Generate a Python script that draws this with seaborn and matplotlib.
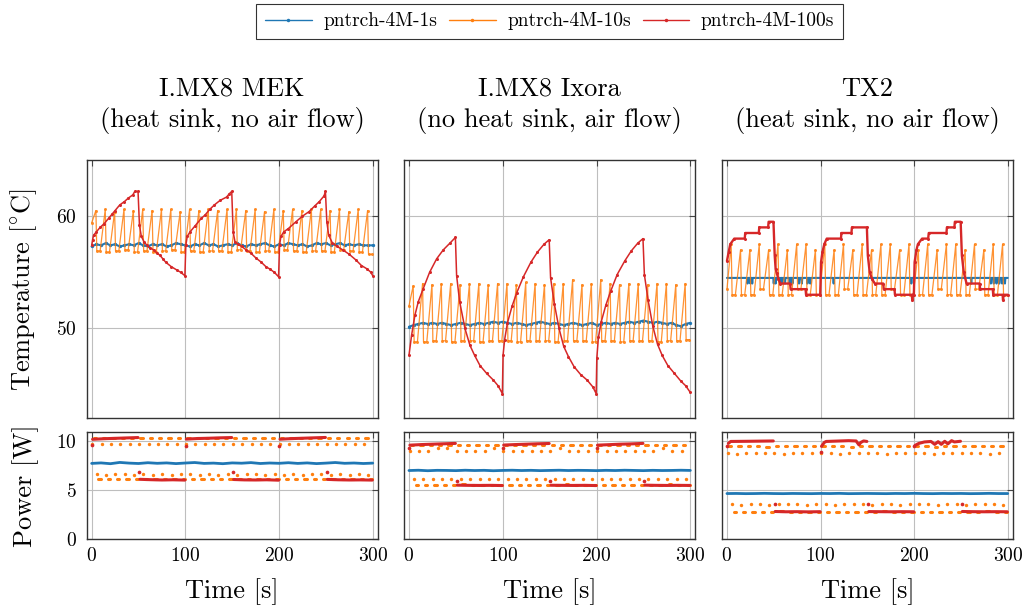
import numpy as np
import pandas as pd
import matplotlib
matplotlib.use("Agg")
import matplotlib.pyplot as plt
from matplotlib.lines import Line2D
import seaborn as sns

# ---------------------------------------------------------------- data
board_titles = ["I.MX8 MEK\n(heat sink, no air flow)",
                "I.MX8 Ixora\n(no heat sink, air flow)",
                "TX2\n(heat sink, no air flow)"]
series_names = ["pntrch-4M-1s", "pntrch-4M-10s", "pntrch-4M-100s"]
x_ticks = [0, 100, 200, 300]
temp_ticks = [50, 60]
power_ticks = [0, 5, 10]

# --- temperature, 1 s workload (sampled every 5 s over 0..300 s)
mek_temp_1s = [57.3, 57.5, 57.4, 57.6, 57.4, 57.5, 57.3, 57.4, 57.5, 57.4,
               57.6, 57.4, 57.3, 57.5, 57.4, 57.5, 57.3, 57.4, 57.6, 57.5,
               57.4, 57.3, 57.5, 57.4, 57.6, 57.4, 57.5, 57.3, 57.4, 57.5,
               57.4, 57.6, 57.4, 57.3, 57.5, 57.4, 57.5, 57.6, 57.4, 57.3,
               57.5, 57.4, 57.6, 57.5, 57.4, 57.5, 57.3, 57.4, 57.6, 57.5,
               57.6, 57.4, 57.5, 57.6, 57.4, 57.5, 57.4, 57.5, 57.4, 57.4, 57.4]
ixora_temp_1s = [50.15, 50.3, 50.4, 50.5, 50.4, 50.5, 50.4, 50.5, 50.4, 50.3,
                 50.4, 50.5, 50.4, 50.3, 50.4, 50.5, 50.4, 50.5, 50.6, 50.5,
                 50.6, 50.5, 50.4, 50.5, 50.4, 50.3, 50.4, 50.5, 50.6, 50.5,
                 50.4, 50.5, 50.4, 50.3, 50.4, 50.5, 50.4, 50.3, 50.4, 50.5,
                 50.3, 50.4, 50.5, 50.4, 50.5, 50.4, 50.5, 50.6, 50.5, 50.6,
                 50.7, 50.6, 50.5, 50.6, 50.5, 50.4, 50.5, 50.3, 50.2, 50.4, 50.5]
tx2_temp_1s_base = 54.5
tx2_temp_1s_dip_t = [22, 25, 27, 50, 52, 57, 59, 62, 67, 70, 77, 80, 86, 89,
                     114, 197, 261, 282, 285, 288, 291, 294, 297]
tx2_temp_1s_dip_v = [54.0, 54.0, 54.0, 54.0, 54.0, 54.0, 54.0, 54.0, 54.0, 54.0,
                     54.0, 54.0, 54.0, 54.0, 54.0, 54.0, 54.0, 54.0, 54.0, 54.0,
                     54.0, 54.0, 54.0]

# --- temperature, 10 s workload: first sample, then per-cycle peak / trough
mek_temp_10s_start = 59.4
mek_temp_10s_peak = [60.5, 60.6, 60.4, 60.6, 60.5, 60.6, 60.5, 60.6, 60.6, 60.4,
                     60.6, 60.5, 60.6, 60.5, 60.6, 60.6, 60.5, 60.6, 60.4, 60.6,
                     60.5, 60.6, 60.5, 60.6, 60.6, 60.5, 60.6, 60.4, 60.6, 60.5]
mek_temp_10s_low = [56.9, 56.8, 56.9, 57.0, 56.8, 56.9, 56.8, 56.9, 57.0, 56.8,
                    56.9, 56.8, 56.9, 56.9, 56.8, 57.0, 56.9, 56.8, 56.9, 56.8,
                    57.0, 56.9, 56.8, 56.9, 56.9, 56.8, 57.0, 56.9, 56.8, 56.6]
ixora_temp_10s_start = 52.0
ixora_temp_10s_peak = [53.8, 54.0, 53.9, 54.0, 54.0, 53.9, 54.0, 54.0, 53.9, 54.0,
                       54.0, 53.9, 54.1, 54.0, 53.9, 54.0, 54.0, 54.35, 53.9, 54.0,
                       54.35, 54.0, 53.9, 54.0, 54.0, 53.9, 54.0, 54.0, 53.9, 54.0]
ixora_temp_10s_low = [48.8, 48.8, 48.9, 48.9, 48.8, 48.9, 48.9, 48.8, 48.9, 48.9,
                      48.9, 48.8, 48.9, 48.9, 48.9, 48.8, 48.9, 48.9, 48.9, 48.8,
                      48.9, 48.9, 48.8, 48.9, 48.9, 48.9, 48.8, 48.9, 48.9, 49.0]
tx2_temp_10s_start = 53.5
tx2_temp_10s_peak = [57.5, 57.0, 57.0, 57.5, 57.0, 57.5, 57.0, 57.5, 57.5, 57.0,
                     57.5, 57.0, 57.5, 57.0, 57.5, 57.0, 57.5, 57.5, 57.0, 57.5,
                     57.0, 57.5, 57.0, 57.5, 57.5, 57.0, 57.5, 57.0, 57.5, 57.5]
tx2_temp_10s_low = [53.0, 53.0, 53.0, 53.5, 53.0, 53.0, 53.0, 53.5, 53.0, 53.0,
                    53.0, 53.0, 53.5, 53.0, 53.0, 53.0, 53.0, 53.5, 53.0, 53.0,
                    53.0, 53.0, 53.5, 53.0, 53.0, 53.0, 53.5, 53.0, 53.0, 53.0]

# --- temperature, 100 s workload
mek_temp_100s_t = [0, 1, 2, 5, 9, 13, 18, 22, 25, 30, 35, 39, 44, 46, 49.5,
                   51, 53, 56, 59, 62, 66, 70, 73, 76, 79, 85, 91, 95, 99.5,
                   100.5, 102, 105, 110, 117, 121, 126, 131, 137, 144, 147, 149.5,
                   151, 153, 156, 160, 165, 170, 175, 181, 186, 190, 195, 199.5,
                   200.5, 202, 205, 210, 218, 225, 232, 238, 243, 248, 249.5,
                   251, 253, 257, 262, 268, 275, 282, 288, 294, 298, 300]
mek_temp_100s = [57.4, 57.9, 58.3, 58.6, 59.0, 59.3, 59.8, 60.2, 60.5, 61.0, 61.3, 61.6, 61.9, 62.2, 62.2,
                 59.2, 58.2, 57.7, 57.4, 57.2, 57.0, 56.7, 56.5, 56.2, 55.9, 55.5, 55.2, 55.0, 54.7,
                 57.4, 58.2, 58.6, 59.1, 59.8, 60.1, 60.6, 61.0, 61.4, 61.7, 62.0, 62.2,
                 58.6, 57.7, 57.5, 57.3, 57.0, 56.7, 56.3, 55.9, 55.5, 55.3, 55.0, 54.6,
                 57.4, 58.2, 58.6, 58.9, 59.5, 60.0, 60.4, 60.9, 61.3, 61.8, 62.2,
                 59.5, 58.3, 57.6, 57.3, 57.0, 56.6, 56.1, 55.6, 55.3, 55.0, 54.7]
ixora_temp_100s_t = [0, 2.8, 6.4, 10, 15, 22, 29.5, 36.6, 43.7, 49.5,
                     50.8, 54, 59.7, 65, 70, 75.7, 82.8, 90, 95, 99.6,
                     100.3, 102, 105, 110, 115, 122, 130, 137, 144, 149.5,
                     151, 155, 160, 165, 170, 176, 183, 190, 196, 199.6,
                     200.3, 202, 205, 210, 215, 222, 230, 237, 244, 249.5,
                     251, 255, 260, 265, 270, 276, 283, 290, 295, 300]
ixora_temp_100s = [47.6, 49.4, 51.2, 52.4, 53.5, 55.0, 56.2, 57.0, 57.6, 58.1,
                   54.7, 52.4, 50.0, 48.5, 47.6, 46.7, 46.0, 45.4, 44.9, 44.2,
                   47.6, 49.0, 50.5, 52.0, 53.2, 54.6, 55.9, 56.8, 57.5, 57.9,
                   54.5, 52.2, 50.0, 48.4, 47.5, 46.6, 45.9, 45.4, 44.8, 44.2,
                   47.4, 49.2, 50.6, 52.1, 53.3, 54.8, 56.0, 56.9, 57.6, 58.0,
                   54.8, 52.5, 50.2, 48.6, 47.6, 46.7, 46.0, 45.3, 44.9, 44.3]
tx2_temp_100s_t = [0, 1.8, 3.5, 7.8, 19, 19.5, 34, 34.5, 44, 44.5, 49.7,
                   51, 52, 53.3, 55, 57, 67.5, 68, 84, 84.5, 99.7,
                   100.5, 102, 104, 106.6, 121.8, 122.3, 133, 133.5, 149.5,
                   150.5, 152.5, 155, 158, 167, 167.5, 179, 179.5, 197.5, 198, 198.5, 199.7,
                   200.5, 202.5, 204, 208.5, 215, 215.6, 234.5, 235, 243, 243.5, 249.7,
                   251, 253, 256, 270, 270.5, 284, 284.5, 294.5, 295, 295.5, 300]
tx2_temp_100s = [56.0, 56.8, 57.5, 58.0, 58.0, 58.5, 58.5, 59.0, 59.0, 59.5, 59.5,
                 56.5, 55.3, 54.9, 54.4, 54.0, 54.0, 53.5, 53.5, 53.0, 53.0,
                 55.9, 56.8, 57.5, 58.0, 58.0, 58.5, 58.5, 59.0, 59.0,
                 56.5, 55.0, 54.4, 54.0, 54.0, 53.5, 53.5, 53.0, 53.0, 52.5, 53.0, 53.0,
                 55.9, 57.0, 57.5, 58.0, 58.0, 58.5, 58.5, 59.0, 59.0, 59.5, 59.5,
                 56.5, 55.0, 54.0, 54.0, 53.5, 53.5, 53.0, 53.0, 52.5, 53.0, 53.0]

# --- power, 1 s workload (sampled every 10 s)
mek_power_1s = [7.75, 7.80, 7.72, 7.85, 7.78, 7.74, 7.82, 7.76, 7.80, 7.73,
                7.79, 7.84, 7.75, 7.78, 7.72, 7.80, 7.77, 7.83, 7.74, 7.79,
                7.76, 7.82, 7.75, 7.80, 7.73, 7.78, 7.84, 7.76, 7.79, 7.74, 7.78]
ixora_power_1s = [7.02, 7.05, 7.00, 7.04, 7.03, 7.01, 7.05, 7.02, 7.04, 7.00,
                  7.03, 7.05, 7.02, 7.04, 7.01, 7.03, 7.05, 7.02, 7.04, 7.03,
                  7.01, 7.04, 7.02, 7.05, 7.03, 7.01, 7.04, 7.02, 7.03, 7.05, 7.03]
tx2_power_1s = [4.66, 4.67, 4.65, 4.66, 4.68, 4.66, 4.65, 4.67, 4.66, 4.65,
                4.67, 4.66, 4.68, 4.65, 4.66, 4.67, 4.66, 4.65, 4.67, 4.66,
                4.68, 4.66, 4.65, 4.67, 4.66, 4.67, 4.65, 4.66, 4.68, 4.66, 4.66]

# --- power, 10 s workload (per cycle: first high sample, high level, first low sample, low level)
mek_power_10s_hi_first = [9.76, 9.74, 9.78, 9.75, 9.77, 9.76, 9.74, 9.78, 9.76, 9.75,
                          9.77, 9.76, 9.74, 9.78, 9.75, 9.76, 9.77, 9.74, 9.76, 9.78,
                          9.75, 9.76, 9.74, 9.77, 9.76, 9.78, 9.75, 9.76, 9.74, 9.77]
mek_power_10s_hi = [10.34, 10.33, 10.35, 10.34, 10.32, 10.35, 10.34, 10.33, 10.35, 10.34,
                    10.33, 10.35, 10.34, 10.32, 10.35, 10.34, 10.33, 10.35, 10.34, 10.33,
                    10.35, 10.34, 10.32, 10.35, 10.34, 10.33, 10.35, 10.34, 10.33, 10.35]
mek_power_10s_lo_first = [6.62, 6.60, 6.64, 6.62, 6.58, 6.63, 6.61, 6.62, 6.60, 6.64,
                          6.62, 6.58, 6.63, 6.61, 6.62, 6.60, 6.64, 6.62, 6.58, 6.63,
                          6.61, 6.62, 6.60, 6.64, 6.62, 6.58, 6.63, 6.61, 6.62, 6.60]
mek_power_10s_lo = [6.15, 6.14, 6.16, 6.13, 6.15, 6.17, 6.14, 6.15, 6.13, 6.16,
                    6.15, 6.14, 6.16, 6.15, 6.13, 6.15, 6.17, 6.14, 6.15, 6.16,
                    6.13, 6.15, 6.14, 6.16, 6.15, 6.13, 6.15, 6.17, 6.14, 6.15]
ixora_power_10s_hi_first = [9.02, 9.00, 9.03, 9.32, 9.30, 9.02, 9.00, 9.03, 9.01, 9.30,
                            9.02, 9.00, 9.03, 9.01, 9.02, 9.00, 9.31, 9.02, 9.00, 9.03,
                            9.01, 9.02, 9.00, 9.03, 9.02, 9.00, 9.01, 9.30, 9.02, 9.00]
ixora_power_10s_hi = [9.66, 9.65, 9.67, 9.66, 9.64, 9.67, 9.66, 9.65, 9.67, 9.66,
                      9.65, 9.67, 9.66, 9.64, 9.67, 9.66, 9.65, 9.67, 9.66, 9.65,
                      9.67, 9.66, 9.64, 9.67, 9.66, 9.65, 9.67, 9.66, 9.65, 9.67]
ixora_power_10s_lo_first = [6.18, 6.16, 6.20, 6.18, 6.15, 6.19, 6.17, 6.18, 6.16, 6.20,
                            6.18, 6.15, 6.19, 6.17, 6.18, 6.16, 6.20, 6.18, 6.15, 6.19,
                            6.17, 6.18, 6.16, 6.20, 6.18, 6.15, 6.19, 6.17, 6.18, 6.16]
ixora_power_10s_lo = [5.57, 5.56, 5.58, 5.55, 5.57, 5.59, 5.56, 5.57, 5.55, 5.58,
                      5.57, 5.56, 5.58, 5.57, 5.55, 5.57, 5.59, 5.56, 5.57, 5.58,
                      5.55, 5.57, 5.56, 5.58, 5.57, 5.55, 5.57, 5.59, 5.56, 5.57]
tx2_power_10s_hi_first = [8.78, 8.76, 8.80, 8.77, 8.79, 8.78, 8.76, 8.80, 8.78, 8.77,
                          8.79, 8.78, 8.76, 8.80, 8.77, 8.78, 8.79, 8.76, 8.78, 8.80,
                          8.77, 8.78, 8.76, 8.79, 8.78, 8.80, 8.77, 8.78, 8.76, 8.79]
tx2_power_10s_hi = [9.50, 9.49, 9.51, 9.50, 9.48, 9.51, 9.50, 9.49, 9.51, 9.50,
                    9.49, 9.51, 9.50, 9.48, 9.51, 9.50, 9.49, 9.51, 9.50, 9.49,
                    9.51, 9.50, 9.48, 9.51, 9.50, 9.49, 9.51, 9.50, 9.49, 9.51]
tx2_power_10s_lo_first = [3.55, 3.53, 3.57, 3.55, 3.52, 3.56, 3.54, 3.55, 3.53, 3.57,
                          3.55, 3.52, 3.56, 3.54, 3.55, 3.53, 3.57, 3.55, 3.52, 3.56,
                          3.54, 3.55, 3.53, 3.57, 3.55, 3.52, 3.56, 3.54, 3.55, 3.53]
tx2_power_10s_lo = [2.80, 2.79, 2.81, 2.78, 2.80, 2.82, 2.79, 2.80, 2.78, 2.81,
                    2.80, 2.79, 2.81, 2.80, 2.78, 2.80, 2.82, 2.79, 2.80, 2.81,
                    2.78, 2.80, 2.79, 2.81, 2.80, 2.78, 2.80, 2.82, 2.79, 2.80]

# --- power, 100 s workload
mek_power_100s_hi_t = [1, 13, 25, 37, 49.5, 101, 113, 125, 137, 149.5, 201, 213, 225, 237, 249.5]
mek_power_100s_hi = [10.22, 10.28, 10.32, 10.36, 10.40, 10.24, 10.30, 10.33, 10.37, 10.40,
                     10.23, 10.29, 10.33, 10.37, 10.41]
mek_power_100s_lo_t = [51.5, 63, 75, 87, 99.5, 151.5, 163, 175, 187, 199.5, 251.5, 263, 275, 287, 299.5]
mek_power_100s_lo = [6.12, 6.08, 6.05, 6.07, 6.04, 6.10, 6.06, 6.05, 6.07, 6.03,
                     6.11, 6.07, 6.05, 6.06, 6.04]
mek_power_100s_first = [9.66, 9.56, 9.56]
mek_power_100s_mid = [6.86, 6.90, 6.85]
ixora_power_100s_hi_t = [1, 13, 25, 37, 49.5, 101, 113, 125, 137, 149.5, 201, 213, 225, 237, 249.5]
ixora_power_100s_hi = [9.62, 9.68, 9.72, 9.76, 9.80, 9.63, 9.68, 9.72, 9.76, 9.79,
                       9.62, 9.67, 9.72, 9.75, 9.80]
ixora_power_100s_lo_t = [51.5, 63, 75, 87, 99.5, 151.5, 163, 175, 187, 199.5, 251.5, 263, 275, 287, 299.5]
ixora_power_100s_lo = [5.52, 5.50, 5.49, 5.50, 5.48, 5.51, 5.50, 5.49, 5.50, 5.48,
                       5.52, 5.50, 5.49, 5.50, 5.49]
ixora_power_100s_first = [9.29, 9.29, 9.29]
ixora_power_100s_mid = [5.91, 5.91, 5.91]
tx2_power_100s_hi_t = [1.5, 4, 25, 49.5,
                       101, 104, 106, 130, 138, 141, 143, 146, 149.5,
                       201, 205, 211, 218, 222, 225.6, 229, 232.7, 236, 240, 243, 249.5]
tx2_power_100s_hi = [9.80, 10.00, 10.02, 10.05,
                     9.50, 9.90, 10.00, 10.08, 10.05, 9.65, 9.90, 10.05, 10.00,
                     9.60, 9.80, 9.95, 10.00, 9.70, 9.98, 9.70, 10.02, 9.75, 10.08, 9.95, 10.02]
tx2_power_100s_lo_t = [51.5, 63, 75, 87, 99.5, 151.5, 163, 175, 187, 199.5, 251.5, 263, 275, 287, 299.5]
tx2_power_100s_lo = [2.82, 2.79, 2.80, 2.78, 2.80, 2.81, 2.80, 2.79, 2.80, 2.79,
                     2.82, 2.80, 2.79, 2.80, 2.79]
tx2_power_100s_first = [9.50, 8.95, 9.50]
tx2_power_100s_mid = [3.61, 3.61, 3.61]

# ---------------------------------------------------------------- style
sns.set_theme(style="white")
plt.rcParams["font.family"] = ["cmr10", "DejaVu Serif"]
plt.rcParams["mathtext.fontset"] = "cm"
plt.rcParams["axes.formatter.use_mathtext"] = True
plt.rcParams["axes.unicode_minus"] = False
plt.rcParams["text.color"] = "black"
plt.rcParams["axes.labelcolor"] = "black"

C_BLUE, C_ORANGE, C_RED = "#1f77b4", "#ff7f0e", "#d62728"
W, H = 1029, 611
fig = plt.figure(figsize=(W / 100, H / 100), dpi=100)

cols = [(86.7, 377.7), (404.0, 695.3), (722.0, 1012.7)]
temp_px = (160.0, 418.3)
pow_px = (431.7, 539.0)


def rect(x0, x1, y0, y1):
    return [x0 / W, 1 - y1 / H, (x1 - x0) / W, (y1 - y0) / H]


def line(ax, t, v, color, lw, ms=2.0, alpha=1.0, z=2):
    sns.lineplot(x=list(t), y=list(v), ax=ax, color=color, linewidth=lw,
                 marker="o", markersize=ms, markeredgewidth=0,
                 markeredgecolor=color, estimator=None, sort=False,
                 alpha=alpha, zorder=z)


def segments(ax, t0, t1, vals0, vals1, color, lw, z=2):
    n = len(t0)
    df = pd.DataFrame({"t": list(t0) + list(t1),
                       "v": list(vals0) + list(vals1),
                       "seg": list(range(n)) * 2})
    sns.lineplot(data=df, x="t", y="v", units="seg", estimator=None,
                 color=color, linewidth=lw, ax=ax, zorder=z,
                 solid_capstyle="round")


def dots(ax, t, v, color, s=6, z=3):
    sns.scatterplot(x=list(t), y=list(v), ax=ax, color=color, s=s,
                    linewidth=0, zorder=z)


def sawtooth(start, peaks, lows):
    t, v = [0.0], [start]
    for k, (p, l) in enumerate(zip(peaks, lows)):
        t += [10 * k + 4.5, 10 * k + 5.5, 10 * k + 9.0]
        v += [p, l, l]
    return t, v


def dip_line(base, dip_t, dip_v):
    t, v = [0.0], [base]
    for dt, dv in zip(dip_t, dip_v):
        t += [dt - 0.5, dt, dt + 0.5]
        v += [base, dv, base]
    t.append(300.0)
    v.append(base)
    return t, v


def style(ax, ylim, yticks, left, bottom):
    ax.set_xlim(-5.3, 305.3)
    ax.set_ylim(*ylim)
    ax.set_xticks(x_ticks)
    ax.set_yticks(yticks)
    ax.grid(True, color="#bebebe", linewidth=0.8)
    ax.set_axisbelow(True)
    ax.tick_params(direction="in", length=4, width=0.8, top=True, right=True,
                   color="#444444", labelsize=14, labelcolor="black",
                   labelleft=left, labelbottom=bottom)
    ax.tick_params(axis="x", pad=6)
    ax.tick_params(axis="y", pad=7)
    for s in ax.spines.values():
        s.set_color("#333333")
        s.set_linewidth(1.0)
    ax.set_xlabel("")
    ax.set_ylabel("")


panels = [
    dict(temp1=("lin", mek_temp_1s), saw=(mek_temp_10s_start, mek_temp_10s_peak, mek_temp_10s_low),
         t100=(mek_temp_100s_t, mek_temp_100s), red_lw=1.1,
         p1=mek_power_1s,
         p10=(mek_power_10s_hi_first, mek_power_10s_hi, mek_power_10s_lo_first, mek_power_10s_lo),
         p100=(mek_power_100s_hi_t, mek_power_100s_hi, mek_power_100s_lo_t, mek_power_100s_lo,
               mek_power_100s_first, mek_power_100s_mid)),
    dict(temp1=("lin", ixora_temp_1s), saw=(ixora_temp_10s_start, ixora_temp_10s_peak, ixora_temp_10s_low),
         t100=(ixora_temp_100s_t, ixora_temp_100s), red_lw=1.1,
         p1=ixora_power_1s,
         p10=(ixora_power_10s_hi_first, ixora_power_10s_hi, ixora_power_10s_lo_first, ixora_power_10s_lo),
         p100=(ixora_power_100s_hi_t, ixora_power_100s_hi, ixora_power_100s_lo_t, ixora_power_100s_lo,
               ixora_power_100s_first, ixora_power_100s_mid)),
    dict(temp1=("dip", (tx2_temp_1s_base, tx2_temp_1s_dip_t, tx2_temp_1s_dip_v)),
         saw=(tx2_temp_10s_start, tx2_temp_10s_peak, tx2_temp_10s_low),
         t100=(tx2_temp_100s_t, tx2_temp_100s), red_lw=1.7,
         p1=tx2_power_1s,
         p10=(tx2_power_10s_hi_first, tx2_power_10s_hi, tx2_power_10s_lo_first, tx2_power_10s_lo),
         p100=(tx2_power_100s_hi_t, tx2_power_100s_hi, tx2_power_100s_lo_t, tx2_power_100s_lo,
               tx2_power_100s_first, tx2_power_100s_mid)),
]

cycles = np.arange(30)
for i, (p, (x0, x1)) in enumerate(zip(panels, cols)):
    axT = fig.add_axes(rect(x0, x1, *temp_px))
    axP = fig.add_axes(rect(x0, x1, *pow_px))

    # ---- temperature
    kind, d = p["temp1"]
    if kind == "lin":
        line(axT, np.linspace(0, 300, len(d)), d, C_BLUE, 1.5, ms=2.4, z=2)
    else:
        tt, vv = dip_line(*d)
        line(axT, tt, vv, C_BLUE, 1.5, ms=0.0, z=2)
    st, sv = sawtooth(*p["saw"])
    line(axT, st, sv, C_ORANGE, 0.9, ms=2.2, alpha=0.85, z=3)
    line(axT, p["t100"][0], p["t100"][1], C_RED, p["red_lw"], ms=2.2, z=4)

    # ---- power
    line(axP, np.linspace(0, 300, len(p["p1"])), p["p1"], C_BLUE, 2.0, ms=0.0, z=2)
    hf, hv, lf, lv = p["p10"]
    dots(axP, 10 * cycles + 0.7, hf, C_ORANGE)
    segments(axP, 10 * cycles + 2.0, 10 * cycles + 4.5, hv, hv, C_ORANGE, 2.2, z=3)
    dots(axP, 10 * cycles + 5.3, lf, C_ORANGE)
    segments(axP, 10 * cycles + 7.0, 10 * cycles + 9.5, lv, lv, C_ORANGE, 2.2, z=3)

    ht, hv2, lt, lv2, first, mid = p["p100"]
    for c in range(3):
        sel = [j for j, t in enumerate(ht) if c * 100 <= t < c * 100 + 50]
        line(axP, [ht[j] for j in sel], [hv2[j] for j in sel], C_RED, 2.2, ms=0.0, z=4)
        sel = [j for j, t in enumerate(lt) if c * 100 + 50 <= t < c * 100 + 100]
        line(axP, [lt[j] for j in sel], [lv2[j] for j in sel], C_RED, 2.2, ms=0.0, z=4)
    dots(axP, 100 * np.arange(3) + 0.3, first, C_RED, s=7, z=5)
    dots(axP, 100 * np.arange(3) + 50.8, mid, C_RED, s=7, z=5)

    style(axT, (42, 65), temp_ticks, i == 0, False)
    style(axP, (0, 11), power_ticks, i == 0, True)
    axT.set_title(board_titles[i], fontsize=19, linespacing=1.3, pad=24, color="black")
    axP.set_xlabel("Time [s]", fontsize=19)
    axP.xaxis.set_label_coords(0.5, -0.365)
    if i == 0:
        axT.set_ylabel(r"Temperature [$^{\circ}$C]", fontsize=19)
        axT.yaxis.set_label_coords(-0.165, 0.5)
        axP.set_ylabel("Power [W]", fontsize=19)
        axP.yaxis.set_label_coords(-0.165, 0.5)

handles = [Line2D([0], [0], color=c, lw=1.0, marker="o", markersize=2.5,
                  markeredgewidth=0) for c in (C_BLUE, C_ORANGE, C_RED)]
leg = fig.legend(handles, series_names, loc="center", ncol=3,
                 bbox_to_anchor=(549.7 / W, 1 - 21.5 / H), fontsize=14,
                 frameon=True, fancybox=False, edgecolor="black",
                 handlelength=2.4, handletextpad=0.6, columnspacing=0.6,
                 borderpad=0.45, labelcolor="black")
leg.get_frame().set_linewidth(0.8)

fig.savefig("out.png", dpi=100)
